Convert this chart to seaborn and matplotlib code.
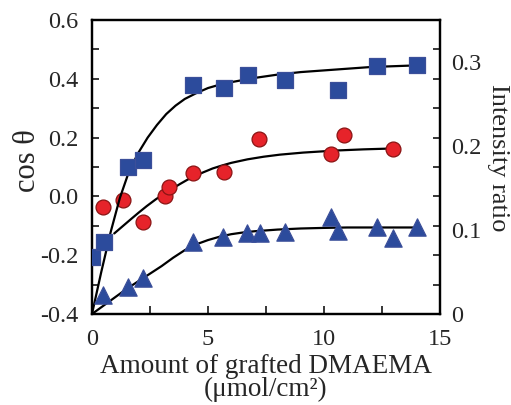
import numpy as np
import pandas as pd
import matplotlib
matplotlib.use("Agg")
import matplotlib.pyplot as plt
from matplotlib.ticker import FixedLocator
import seaborn as sns

# ---- data ----
# squares: intensity ratio (right axis)
sq_x = [0.0, 0.52, 1.55, 2.21, 4.37, 5.69, 6.71, 8.32, 10.62, 12.27, 14.02]
sq_y = [0.068, 0.086, 0.175, 0.183, 0.273, 0.269, 0.285, 0.278, 0.267, 0.295, 0.296]
# triangles: intensity ratio (right axis)
tr_x = [0.49, 1.57, 2.21, 4.37, 5.66, 6.67, 7.24, 8.32, 10.29, 10.62, 12.27, 12.96, 14.02]
tr_y = [0.023, 0.032, 0.043, 0.086, 0.092, 0.097, 0.096, 0.098, 0.116, 0.099, 0.103, 0.091, 0.103]
# circles: cos theta (left axis)
ci_x = [0.49, 1.32, 2.21, 3.15, 3.33, 4.37, 5.69, 7.21, 10.30, 10.86, 12.96]
ci_y = [-0.037, -0.012, -0.086, 0.001, 0.033, 0.079, 0.084, 0.194, 0.143, 0.209, 0.160]

# fitted curves
sqc_x = [0.0, 0.4, 0.8, 1.2, 1.6, 2.0, 2.4, 2.8, 3.2, 3.6, 4.0, 4.5, 5.0, 5.5, 6.0,
         7.0, 8.0, 9.0, 10.0, 11.0, 12.0, 13.0, 14.0]
sqc_y = [0.0, 0.050, 0.097, 0.138, 0.170, 0.192, 0.210, 0.225, 0.238, 0.248, 0.256, 0.263, 0.269, 0.273, 0.276,
         0.281, 0.285, 0.288, 0.290, 0.292, 0.294, 0.295, 0.296]
trc_x = [0.0, 0.5, 1.0, 1.5, 2.0, 2.5, 3.0, 3.5, 4.0, 4.5, 5.0, 5.5, 6.0, 6.5, 7.0, 8.0, 9.0, 10.0, 11.0, 12.0, 14.0]
trc_y = [0.0, 0.010, 0.020, 0.030, 0.039, 0.048, 0.057, 0.067, 0.076, 0.083, 0.088, 0.092, 0.095, 0.097, 0.0985,
         0.1005, 0.1018, 0.1025, 0.103, 0.103, 0.103]
cic_x = [0.96, 1.3, 1.64, 2.0, 2.36, 2.75, 3.15, 3.5, 3.79, 4.1, 4.37, 4.8, 5.2, 5.6, 6.0, 6.7, 7.4, 8.1, 9.1, 10.5, 11.7, 12.96]
cic_y = [-0.126, -0.103, -0.080, -0.056, -0.033, -0.010, 0.011, 0.028, 0.042, 0.056, 0.067, 0.082, 0.095, 0.105, 0.114,
         0.126, 0.135, 0.142, 0.149, 0.156, 0.160, 0.163]

left_ticklabels = ["-0.4", "-0.2", "0.0", "0.2", "0.4", "0.6"]
right_ticklabels = ["0", "0.1", "0.2", "0.3"]
x_ticklabels = ["0", "5", "10", "15"]

sns.set_theme(style="ticks")
plt.rcParams['font.family'] = ['Liberation Serif', 'DejaVu Serif']

FS = 17.5
BLUE = "#2c4b9c"
BLUE_EDGE = "#3b4f9a"
RED = "#e6232a"
RED_EDGE = "#8a1414"

fig = plt.figure(figsize=(5.11, 4.05), dpi=100)
ax = fig.add_axes([0.18, 0.2247, 0.681, 0.7259])
ax2 = ax.twinx()

# curves
sns.lineplot(x=cic_x, y=cic_y, ax=ax, color="black", lw=1.6, sort=False, estimator=None, zorder=2)
sns.lineplot(x=sqc_x, y=sqc_y, ax=ax2, color="black", lw=1.6, sort=False, estimator=None, zorder=2)
sns.lineplot(x=trc_x, y=trc_y, ax=ax2, color="black", lw=1.6, sort=False, estimator=None, zorder=2)

# markers
sns.scatterplot(x=ci_x, y=ci_y, ax=ax, marker="o", s=115, color=RED, edgecolor=RED_EDGE, linewidth=0.9, zorder=3)
sns.scatterplot(x=sq_x, y=sq_y, ax=ax2, marker="s", s=135, color=BLUE, edgecolor=BLUE_EDGE, linewidth=0.9, zorder=3)
sns.scatterplot(x=tr_x, y=tr_y, ax=ax2, marker="^", s=155, color=BLUE, edgecolor=BLUE_EDGE, linewidth=0.9, zorder=3)

for a in (ax, ax2):
    a.set_xlim(0, 15)
    for s in a.spines.values():
        s.set_linewidth(1.6)
        s.set_color("black")
        s.set_visible(True)

ax.set_ylim(-0.4, 0.6)
ax2.set_ylim(0, 0.35)

# left axis ticks
ax.yaxis.set_major_locator(FixedLocator([-0.4, -0.2, 0.0, 0.2, 0.4, 0.6]))
ax.set_yticklabels(left_ticklabels)
ax.yaxis.set_minor_locator(FixedLocator([-0.3, -0.1, 0.1, 0.3, 0.5]))
ax.tick_params(axis="y", which="both", direction="in", length=5, width=1.3, labelsize=FS, pad=10, right=False)

# x axis ticks
ax.xaxis.set_major_locator(FixedLocator([0, 5, 10, 15]))
ax.set_xticklabels(x_ticklabels)
ax.xaxis.set_minor_locator(FixedLocator([2.5, 7.5, 12.5]))
ax.tick_params(axis="x", which="both", direction="in", length=6, width=1.3, labelsize=FS, pad=11, top=False)

# right axis ticks
ax2.yaxis.set_major_locator(FixedLocator([0, 0.1, 0.2, 0.3]))
ax2.set_yticklabels(right_ticklabels)
ax2.yaxis.set_minor_locator(FixedLocator([0.035 * i for i in range(1, 10)]))
ax2.tick_params(axis="y", which="major", direction="in", length=0, labelsize=FS, pad=8)
ax2.tick_params(axis="y", which="minor", direction="in", length=5, width=1.3)

ax.set_ylabel("cos θ", fontsize=22, va="center")
ax.yaxis.set_label_coords(-0.185, 0.52)
ax2.set_ylabel("Intensity ratio", fontsize=19, rotation=270, va="center")
ax2.yaxis.set_label_coords(1.168, 0.53)
ax.set_xlabel("Amount of grafted DMAEMA\n(μmol/cm²)", fontsize=19.5, linespacing=0.93)
ax.xaxis.set_label_coords(0.5, -0.135)
ax.xaxis.label.set_va("top")

fig.savefig("out.png", dpi=100)
